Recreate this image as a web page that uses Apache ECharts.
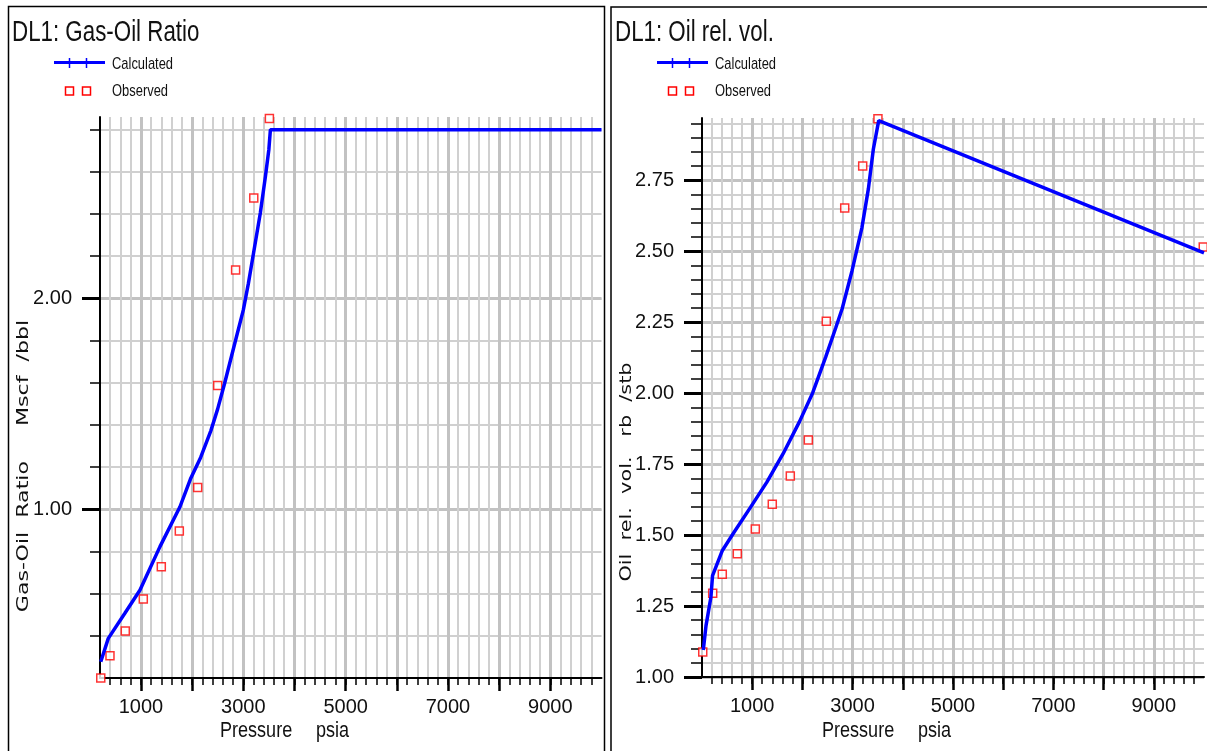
<!DOCTYPE html>
<html>
<head>
<meta charset="UTF-8">
<title>DL1 PVT plots</title>
<script src="https://cdn.jsdelivr.net/npm/echarts@6/dist/echarts.min.js"></script>
<style>
html, body { margin: 0; padding: 0; background: #fff; }
#main { width: 1207px; height: 751px; }
</style>
</head>
<body>
<div id="main"></div>
<script>
// DL1: Gas-Oil Ratio (Mscf/bbl) against pressure (psia)
var gorCalcP = [215, 362, 689, 982, 1372, 1763, 1967, 2167, 2367, 2500, 2633, 2833, 3000, 3100, 3200, 3333, 3433, 3500, 3530, 10000];
var gorCalc  = [0.277, 0.388, 0.508, 0.617, 0.823, 1.012, 1.143, 1.246, 1.373, 1.476, 1.595, 1.786, 1.944, 2.071, 2.214, 2.405, 2.579, 2.706, 2.800, 2.800];
var gorObsP  = [215, 395, 694, 1046, 1398, 1750, 2109, 2500, 2850, 3205, 3510];
var gorObs   = [0.200, 0.306, 0.423, 0.575, 0.727, 0.897, 1.103, 1.587, 2.135, 2.476, 2.853];

// DL1: Oil rel. vol. (rb/stb) against pressure (psia)
var bovCalcP = [26, 80, 178, 210, 406, 635, 962, 1289, 1616, 1942, 2204, 2465, 2661, 2792, 2988, 3184, 3315, 3413, 3520, 10000];
var bovCalc  = [1.095, 1.181, 1.282, 1.357, 1.446, 1.509, 1.597, 1.686, 1.787, 1.900, 2.001, 2.128, 2.229, 2.298, 2.431, 2.582, 2.721, 2.860, 2.961, 2.495];
var bovObsP  = [15, 213, 404, 703, 1062, 1400, 1759, 2118, 2476, 2843, 3201, 3505, 9985];
var bovObs   = [1.088, 1.295, 1.362, 1.434, 1.522, 1.609, 1.708, 1.835, 2.254, 2.653, 2.801, 2.967, 2.515];

// tick values
function range(a, b, step) {
    var out = [];
    for (var v = a; v <= b + 1e-9; v += step) out.push(Math.round(v * 1000) / 1000);
    return out;
}
var pMajor    = [1000, 2000, 3000, 4000, 5000, 6000, 7000, 8000, 9000];
var pLabels   = [1000, 3000, 5000, 7000, 9000];
var gorMinor  = range(0.4, 2.8, 0.2);
var gorMajor  = [1, 2];
var bovMinor  = range(1.05, 2.95, 0.05);
var bovMajor  = [1, 1.25, 1.5, 1.75, 2, 2.25, 2.5, 2.75];

var LIB = "'Liberation Sans', Arial, sans-serif";
var SANS = "'DejaVu Sans', sans-serif";
var NARROW_SCALE = 0.82;

function pairs(xs, ys) {
    return xs.map(function (x, i) { return [x, ys[i]]; });
}

function xAxes(grid, min, max, minor) {
    return [
        { gridIndex: grid, type: 'value', position: 'bottom', min: min, max: max,
          axisLine: { show: true, onZero: false, lineStyle: { color: '#000', width: 2 } },
          axisTick: { show: true, length: 7, customValues: minor, lineStyle: { color: '#000', width: 1.5 } },
          axisLabel: { show: false },
          splitLine: { show: true, lineStyle: { color: '#d0d0d0', width: 2 } } },
        { gridIndex: grid, type: 'value', position: 'bottom', min: min, max: max,
          axisLine: { show: false, onZero: false },
          axisTick: { show: true, length: 13, customValues: pMajor, lineStyle: { color: '#000', width: 2.5 } },
          axisLabel: { show: true, customValues: pLabels, margin: 19, color: '#111',
                       fontFamily: LIB, fontSize: 20, formatter: function (v) { return String(v); } },
          splitLine: { show: true, lineStyle: { color: '#c2c2c2', width: 3 } } }
    ];
}

function yAxes(grid, min, max, minor, major, minorLen) {
    return [
        { gridIndex: grid, type: 'value', position: 'left', min: min, max: max,
          axisLine: { show: true, onZero: false, lineStyle: { color: '#000', width: 2 } },
          axisTick: { show: true, length: minorLen, customValues: minor, lineStyle: { color: '#000', width: 1.5 } },
          axisLabel: { show: false },
          splitLine: { show: true, lineStyle: { color: '#d0d0d0', width: 2 } } },
        { gridIndex: grid, type: 'value', position: 'left', min: min, max: max,
          axisLine: { show: false, onZero: false },
          axisTick: { show: true, length: 18, customValues: major, lineStyle: { color: '#000', width: 3 } },
          axisLabel: { show: true, customValues: major, margin: 28, color: '#111', padding: [5, 0, 0, 0],
                       fontFamily: LIB, fontSize: 20, formatter: function (v) { return v.toFixed(2); } },
          splitLine: { show: true, lineStyle: { color: '#c2c2c2', width: 3 } } }
    ];
}

function txt(x, y, text, font, extra) {
    var el = { type: 'text', x: x, y: y, silent: true, scaleX: NARROW_SCALE,
               style: { text: text, font: font, fill: '#111',
                        textAlign: 'left', align: 'left',
                        textVerticalAlign: 'middle', verticalAlign: 'middle' } };
    for (var k in extra) el[k] = extra[k];
    return el;
}

// frame, title, legend and axis names of one panel
function panel(ox, frame, title, yName, yNameX, yNameY, yScale) {
    return [
        { type: 'rect', silent: true, shape: frame,
          style: { fill: 'none', stroke: '#000', lineWidth: 1.5 } },
        txt(ox + 12, 33, title, '29px ' + LIB, { scaleX: 0.77 }),
        { type: 'line', silent: true, shape: { x1: ox + 54, y1: 62.5, x2: ox + 105, y2: 62.5 },
          style: { stroke: '#0000ff', lineWidth: 3 } },
        { type: 'line', silent: true, shape: { x1: ox + 69.5, y1: 58, x2: ox + 69.5, y2: 68 },
          style: { stroke: '#0000ff', lineWidth: 1.5 } },
        { type: 'line', silent: true, shape: { x1: ox + 86.5, y1: 58, x2: ox + 86.5, y2: 68 },
          style: { stroke: '#0000ff', lineWidth: 1.5 } },
        txt(ox + 112, 64, 'Calculated', '17px ' + LIB, { scaleX: 0.76 }),
        { type: 'rect', silent: true, shape: { x: ox + 65.5, y: 87, width: 8, height: 8 },
          style: { fill: 'none', stroke: '#ff0000', lineWidth: 1.5 } },
        { type: 'rect', silent: true, shape: { x: ox + 82.5, y: 87, width: 8, height: 8 },
          style: { fill: 'none', stroke: '#ff0000', lineWidth: 1.5 } },
        txt(ox + 112, 91, 'Observed', '17px ' + LIB, { scaleX: 0.76 }),
        txt(yNameX, yNameY, yName, '16px ' + SANS,
            { rotation: Math.PI / 2, scaleX: yScale,
              style: { text: yName, font: '16px ' + SANS, fill: '#111',
                       textAlign: 'center', align: 'center',
                       textVerticalAlign: 'middle', verticalAlign: 'middle' } })
    ];
}

var chart = echarts.init(document.getElementById('main'), null, { renderer: 'canvas' });

var option = {
    animation: false,
    backgroundColor: '#fff',
    grid: [
        { left: 100, top: 117, width: 501.5, height: 561 },
        { left: 702, top: 118, width: 502, height: 559 }
    ],
    xAxis: xAxes(0, 200, 10000, range(400, 9800, 200)).concat(xAxes(1, 0, 10000, range(200, 9800, 200))),
    yAxis: yAxes(0, 0.2, 2.86, gorMinor, gorMajor, 10).concat(yAxes(1, 1, 2.97, bovMinor, bovMajor, 11)),
    series: [
        { name: 'Calculated', type: 'line', xAxisIndex: 1, yAxisIndex: 1,
          data: pairs(gorCalcP, gorCalc), symbol: 'none',
          lineStyle: { color: '#0000ff', width: 3.5 } },
        { name: 'Observed', type: 'scatter', xAxisIndex: 1, yAxisIndex: 1, clip: false,
          data: pairs(gorObsP, gorObs), symbol: 'rect', symbolSize: 8,
          itemStyle: { color: '#fff', borderColor: '#ff0000', borderWidth: 1.5 } },
        { name: 'Calculated', type: 'line', xAxisIndex: 3, yAxisIndex: 3,
          data: pairs(bovCalcP, bovCalc), symbol: 'none',
          lineStyle: { color: '#0000ff', width: 3.5 } },
        { name: 'Observed', type: 'scatter', xAxisIndex: 3, yAxisIndex: 3, clip: false,
          data: pairs(bovObsP, bovObs), symbol: 'rect', symbolSize: 8,
          itemStyle: { color: '#fff', borderColor: '#ff0000', borderWidth: 1.5 } }
    ],
    graphic: {
        elements: []
            .concat(panel(0, { x: 8.5, y: 6.5, width: 596, height: 800 },
                          'DL1: Gas-Oil Ratio', 'Gas-Oil  Ratio     Mscf  /bbl', 24, 466, 1.38))
            .concat(panel(603, { x: 611, y: 7, width: 700, height: 800 },
                          'DL1: Oil rel. vol.', 'Oil  rel.  vol.   rb  /stb', 627, 472, 1.3))
            .concat([
                txt(220, 731, 'Pressure', '22px ' + LIB, {}),
                txt(316, 731, 'psia', '22px ' + LIB, {}),
                txt(822, 731, 'Pressure', '22px ' + LIB, {}),
                txt(918, 731, 'psia', '22px ' + LIB, {})
            ])
    }
};

chart.setOption(option);
</script>
</body>
</html>
